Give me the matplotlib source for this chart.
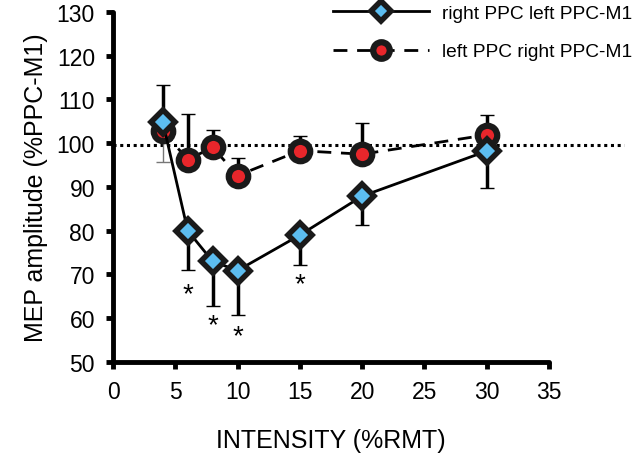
import matplotlib.pyplot as plt

plt.rcParams['font.family'] = ['Liberation Sans', 'DejaVu Sans']

# intensity (%RMT)
intensity = [4, 6, 8, 10, 15, 20, 30]

# right PPC left PPC-M1 (diamonds)
right_mean = [104.8, 80.0, 73.0, 70.9, 79.0, 87.9, 98.2]
right_err_lo = [0, 9.0, 10.1, 10.1, 6.8, 6.6, 8.5]
right_err_hi = [8.4, 0, 0, 0, 0, 0, 0]

# left PPC right PPC-M1 (circles)
left_mean = [102.9, 96.2, 99.1, 92.6, 98.3, 97.5, 101.9]
left_err_lo = [7.2, 0, 0, 0, 0, 0, 0]
left_err_hi = [0, 10.5, 3.9, 4.0, 3.4, 7.1, 4.6]

baseline = 99.6

# significance stars
star_x = [6, 8, 10, 15]
star_y = [65.5, 58.3, 56.0, 67.8]

fig = plt.figure(figsize=(6.4, 4.56), dpi=100)
ax = fig.add_axes([0.1766, 0.204, 0.681, 0.7675])

# baseline dotted line
ax.plot([0, 41], [baseline, baseline], color='black', linestyle=(0, (1, 1.2)),
        linewidth=2.2, clip_on=False, zorder=1)

# error bars
ax.errorbar(intensity[:1], left_mean[:1], yerr=[left_err_lo[:1], left_err_hi[:1]],
            fmt='none', ecolor='#777777', elinewidth=1, capsize=5, capthick=1, zorder=2)
ax.errorbar(intensity[1:], left_mean[1:], yerr=[left_err_lo[1:], left_err_hi[1:]],
            fmt='none', ecolor='black', elinewidth=2.5, capsize=5, capthick=1, zorder=2)
ax.errorbar(intensity, right_mean, yerr=[right_err_lo, right_err_hi],
            fmt='none', ecolor='black', elinewidth=2.5, capsize=5, capthick=1, zorder=2)

ax.plot(intensity, left_mean, color='black', linestyle=(0, (5, 3.5)), linewidth=2,
        marker='o', markersize=14, markerfacecolor='#e8262b', markeredgecolor='#1a1a1a',
        markeredgewidth=4.5, label='left PPC right PPC-M1', zorder=3)
ax.plot(intensity, right_mean, color='black', linestyle='-', linewidth=2,
        marker='D', markersize=12, markerfacecolor='#5cbdf0', markeredgecolor='#1a1a1a',
        markeredgewidth=4, label='right PPC left PPC-M1', zorder=4)

for x, y in zip(star_x, star_y):
    ax.text(x, y, '*', ha='center', va='center', fontsize=20)

ax.set_xlim(0, 35)
ax.set_ylim(50, 130)
ax.set_xticks(range(0, 36, 5))
ax.set_yticks(range(50, 131, 10))
ax.spines['top'].set_visible(False)
ax.spines['right'].set_visible(False)
for s in ['left', 'bottom']:
    ax.spines[s].set_linewidth(3.5)
    ax.spines[s].set_capstyle('round')
ax.tick_params(width=3.5, length=5, direction='out', labelsize=16.5, pad=8)
ax.set_xlabel('INTENSITY (%RMT)', fontsize=18, labelpad=18)
ax.set_ylabel('MEP amplitude (%PPC-M1)', fontsize=18, labelpad=6)

handles, labels = ax.get_legend_handles_labels()
leg = fig.legend(handles[::-1], labels[::-1], loc='upper left',
                 bbox_to_anchor=(0.52, 0.988), frameon=False, fontsize=13.8,
                 handlelength=5, handletextpad=0.7, labelspacing=1.1,
                 borderpad=0, borderaxespad=0, markerscale=0.85)

fig.savefig('out.png', dpi=100)
